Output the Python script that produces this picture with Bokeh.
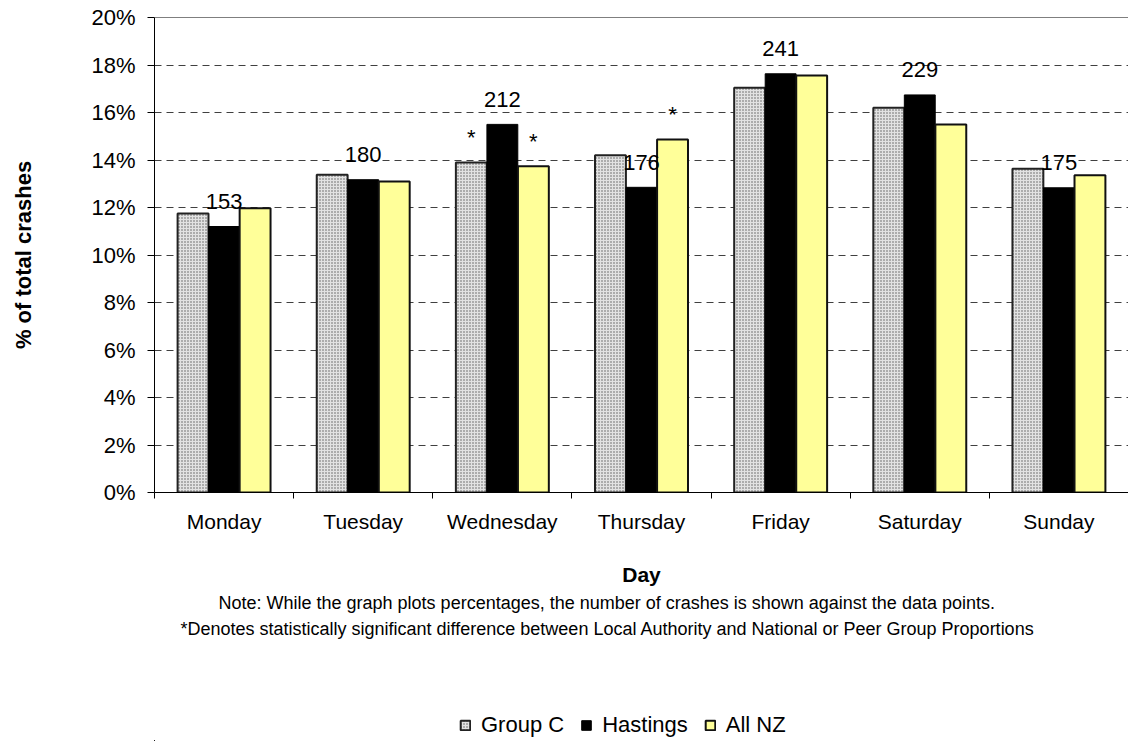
from bokeh.plotting import figure
from bokeh.layouts import column
from bokeh.models import (ColumnDataSource, FixedTicker, PrintfTickFormatter, Range1d,
                          LabelSet, Legend, LegendItem, Span, Title)
from bokeh.core.properties import value
from bokeh.transform import dodge
from bokeh.embed import file_html
from bokeh.resources import INLINE

# ---- data ----
days = ["Monday", "Tuesday", "Wednesday", "Thursday", "Friday", "Saturday", "Sunday"]
groupc = [11.75, 13.38, 13.90, 14.20, 17.04, 16.20, 13.63]
hastings = [11.20, 13.17, 15.50, 12.85, 17.63, 16.74, 12.83]
allnz = [11.97, 13.10, 13.74, 14.86, 17.56, 15.50, 13.36]
hastings_counts = [153, 180, 212, 176, 241, 229, 175]
groupc_sig = ["", "", "*", "", "", "", ""]
allnz_sig = ["", "", "*", "*", "", "", ""]
series_names = ["Group C", "Hastings", "All NZ"]
y_ticks = [0, 2, 4, 6, 8, 10, 12, 14, 16, 18, 20]
y_title = "% of total crashes"
x_title = "Day"
note_lines = [
    "Note: While the graph plots percentages, the number of crashes is shown against the data points.",
    "*Denotes statistically significant difference between Local Authority and National or Peer Group Proportions",
]

FONT = "Liberation Sans"

xc = [i + 0.5 for i in range(len(days))]
src = ColumnDataSource(dict(
    xc=xc, groupc=groupc, hastings=hastings, allnz=allnz,
    counts=[str(c) for c in hastings_counts], gsig=groupc_sig, asig=allnz_sig,
))

off = 0.223
bw = 0.222
styles = [
    dict(fill_color="#e2e2e2", hatch_pattern="dot", hatch_color="#5a5a5a",
         hatch_scale=3, hatch_weight=1.3, line_color="#222222", line_width=2),
    dict(fill_color="black", line_color="black", line_width=1),
    dict(fill_color="#FFFF99", line_color="#111111", line_width=2),
]
cols = ["groupc", "hastings", "allnz"]
offsets = [-off, 0, off]


def add_bars(fig):
    rs = []
    for col, o, st in zip(cols, offsets, styles):
        rs.append(fig.vbar(x=dodge("xc", o, range=fig.x_range), top=col, width=bw,
                           source=src, **st))
    return rs


# ---------------- main chart ----------------
p = figure(width=1128, height=700,
           x_range=Range1d(0, len(days)), y_range=Range1d(y_ticks[0], y_ticks[-1]),
           output_backend="svg", toolbar_location=None,
           min_border_left=154, min_border_right=0, min_border_top=17, min_border_bottom=208)
p.outline_line_color = None
p.background_fill_color = "white"
p.border_fill_color = "white"

add_bars(p)

# grid
p.xgrid.visible = False
p.ygrid.ticker = FixedTicker(ticks=y_ticks)
p.ygrid.grid_line_color = "#404040"
p.ygrid.grid_line_dash = "7 5"
p.ygrid.grid_line_width = 1
p.add_layout(Span(location=y_ticks[-1], dimension="width", line_color="black", line_width=1))

# y axis
p.yaxis.ticker = FixedTicker(ticks=y_ticks)
p.yaxis.formatter = PrintfTickFormatter(format="%d%%")
p.yaxis.axis_label = y_title
p.yaxis.axis_label_text_font = FONT
p.yaxis.axis_label_text_font_style = "bold"
p.yaxis.axis_label_text_font_size = "22px"
p.yaxis.axis_label_text_color = "black"
p.yaxis.axis_label_standoff = 52
p.yaxis.major_label_text_font = FONT
p.yaxis.major_label_text_font_size = "22px"
p.yaxis.major_label_text_color = "black"
p.yaxis.major_label_standoff = 12
p.yaxis.major_tick_out = 7
p.yaxis.major_tick_in = 0
p.yaxis.minor_tick_out = 0
p.yaxis.minor_tick_in = 0
p.yaxis.axis_line_color = "black"
p.yaxis.major_tick_line_color = "black"

# x axis
p.xaxis.ticker = FixedTicker(ticks=xc, minor_ticks=list(range(len(days) + 1)))
p.xaxis.major_label_overrides = {x: d for x, d in zip(xc, days)}
p.xaxis.major_label_text_font = FONT
p.xaxis.major_label_text_font_size = "21px"
p.xaxis.major_label_text_color = "black"
p.xaxis.major_label_standoff = 11
p.xaxis.major_tick_out = 0
p.xaxis.major_tick_in = 0
p.xaxis.minor_tick_out = 6
p.xaxis.minor_tick_in = 0
p.xaxis.minor_tick_line_color = "black"
p.xaxis.axis_line_color = "black"
p.xaxis.axis_label = x_title
p.xaxis.axis_label_text_font = FONT
p.xaxis.axis_label_text_font_style = "bold"
p.xaxis.axis_label_text_font_size = "21px"
p.xaxis.axis_label_text_color = "black"
p.xaxis.axis_label_standoff = 27

# notes below the axis
note_offsets = [64, 26]
note_standoffs = [8, 0]
for line, o, s in zip(note_lines, note_offsets, note_standoffs):
    p.add_layout(Title(text=line, align="left", offset=o, standoff=s, vertical_align="top",
                       text_font=FONT, text_font_size="18px", text_font_style="normal",
                       text_color="black"), "below")

# data labels
p.add_layout(LabelSet(x="xc", y="hastings", text="counts", source=src, y_offset=25,
                      text_align="center", text_baseline="middle",
                      text_font=value(FONT), text_font_size="22px", text_color="black"))
p.add_layout(LabelSet(x=dodge("xc", -off, range=p.x_range), y="groupc", text="gsig", source=src,
                      y_offset=25, text_align="center", text_baseline="middle",
                      text_font=value(FONT), text_font_size="22px", text_color="black"))
p.add_layout(LabelSet(x=dodge("xc", off, range=p.x_range), y="allnz", text="asig", source=src,
                      y_offset=25, text_align="center", text_baseline="middle",
                      text_font=value(FONT), text_font_size="22px", text_color="black"))

# ---------------- legend strip (bars kept out of view; only the legend shows) ----------------
pl = figure(width=1128, height=41, x_range=Range1d(100, 107), y_range=Range1d(1000, 1001),
            output_backend="svg", toolbar_location=None,
            x_axis_location=None, y_axis_location=None,
            min_border_left=0, min_border_right=0, min_border_top=0, min_border_bottom=0)
pl.outline_line_color = None
pl.xgrid.visible = False
pl.ygrid.visible = False
lr = add_bars(pl)
legend = Legend(items=[LegendItem(label=n, renderers=[r]) for n, r in zip(series_names, lr)],
                orientation="horizontal", location=(305, 3),
                glyph_width=12, glyph_height=12, label_standoff=10, spacing=16,
                padding=0, margin=0, border_line_color=None, background_fill_alpha=0,
                label_text_font=FONT, label_text_font_size="22px", label_text_color="black")
pl.add_layout(legend, "center")

layout = column(p, pl, spacing=0)
open("out.html", "w").write(file_html(layout, INLINE))
